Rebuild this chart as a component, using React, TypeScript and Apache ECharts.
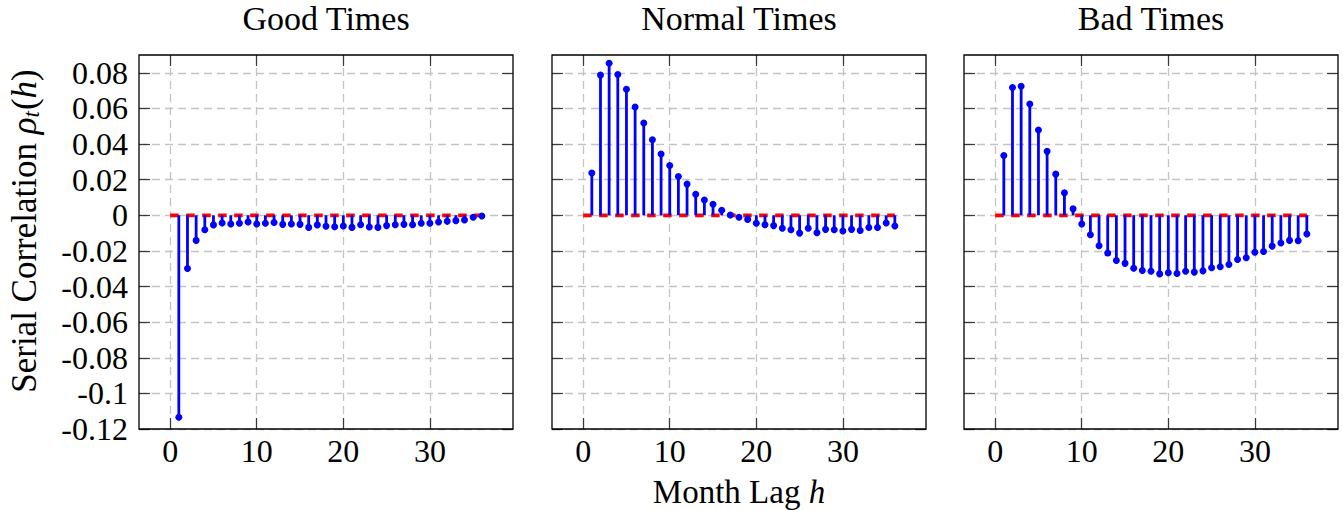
import React, { useEffect, useRef } from "react";
import * as echarts from "echarts";

const lags = [1, 2, 3, 4, 5, 6, 7, 8, 9, 10, 11, 12, 13, 14, 15, 16, 17, 18, 19, 20, 21, 22, 23, 24, 25, 26, 27, 28, 29, 30, 31, 32, 33, 34, 35, 36];

const goodTimes = [
  -0.1134, -0.0299, -0.0141, -0.0081, -0.0054, -0.0043, -0.0049, -0.0045, -0.0038, -0.0049,
  -0.0045, -0.0041, -0.0051, -0.0049, -0.0051, -0.0068, -0.0054, -0.0062, -0.0064, -0.0060,
  -0.0068, -0.0053, -0.0066, -0.0068, -0.0058, -0.0053, -0.0051, -0.0053, -0.0045, -0.0045,
  -0.0038, -0.0034, -0.0030, -0.0026, -0.0011, -0.0004,
];

const normalTimes = [
  0.0237, 0.0787, 0.0854, 0.0791, 0.0708, 0.0608, 0.0518, 0.0424, 0.0344, 0.028,
  0.0218, 0.0175, 0.0118, 0.0086, 0.0062, 0.0028, 0.0002, -0.0011, -0.0023, -0.0045,
  -0.0053, -0.0058, -0.0073, -0.0081, -0.01, -0.0073, -0.0098, -0.0079, -0.0081, -0.0088,
  -0.0079, -0.0085, -0.0069, -0.0069, -0.0043, -0.006,
];

const badTimes = [
  0.0336, 0.0717, 0.0725, 0.0625, 0.0479, 0.0359, 0.0231, 0.0126, 0.0036, -0.0049,
  -0.0109, -0.0171, -0.0212, -0.0254, -0.027, -0.0297, -0.031, -0.0314, -0.0329, -0.0323,
  -0.0327, -0.0314, -0.0319, -0.0312, -0.0295, -0.0289, -0.0276, -0.0248, -0.0238, -0.0208,
  -0.0203, -0.0173, -0.0156, -0.0141, -0.0143, -0.0105,
];

const panelTitles = ["Good Times", "Normal Times", "Bad Times"];
const xTicks = [0, 10, 20, 30];
const yTicks = [-0.12, -0.1, -0.08, -0.06, -0.04, -0.02, 0, 0.02, 0.04, 0.06, 0.08];
const zeroLineX = [0, 36];
const xRange = [-3.6, 39.6];
const yRange = [-0.12, 0.09];

const FONT = "Liberation Serif";

export default function App() {
  const ref = useRef<HTMLDivElement>(null);

  useEffect(() => {
    if (!ref.current) return;
    const chart = echarts.init(ref.current, null, { renderer: "svg" });

    const lefts = [139, 552, 964];
    const top = 55;
    const w = 374;
    const h = 374;
    const seriesData = [goodTimes, normalTimes, badTimes];

    const grids: any[] = [];
    const xAxes: any[] = [];
    const yAxes: any[] = [];
    const series: any[] = [];
    const graphics: any[] = [];

    const tickStyle = { show: true, inside: true, length: 11, lineStyle: { color: "#3a3a3a", width: 1.2 } };
    const splitStyle = { show: true, lineStyle: { color: "#c4c4c4", width: 1.3, type: [8, 5] } };
    const noLine = { show: false, onZero: false };

    lefts.forEach((left, i) => {
      grids.push({ left, top, width: w, height: h, show: false });
      xAxes.push({
        type: "value",
        gridIndex: i,
        position: "bottom",
        min: xRange[0],
        max: xRange[1],
        axisLine: noLine,
        axisTick: { ...tickStyle, customValues: xTicks },
        splitLine: splitStyle,
        axisLabel: {
          show: true,
          customValues: xTicks,
          margin: 6,
          color: "#000",
          fontFamily: FONT,
          fontSize: 32,
        },
      });
      xAxes.push({
        type: "value",
        gridIndex: i,
        position: "top",
        min: xRange[0],
        max: xRange[1],
        axisLine: noLine,
        axisTick: { ...tickStyle, customValues: xTicks },
        splitLine: { show: false },
        axisLabel: { show: false, customValues: xTicks },
      });
      yAxes.push({
        type: "value",
        gridIndex: i,
        position: "left",
        min: yRange[0],
        max: yRange[1],
        axisLine: noLine,
        axisTick: { ...tickStyle, customValues: yTicks },
        splitLine: splitStyle,
        axisLabel: {
          show: i === 0,
          customValues: yTicks,
          margin: 11,
          color: "#000",
          fontFamily: FONT,
          fontSize: 32,
          formatter: (v: number) => String(+Number(v).toFixed(2)),
        },
      });
      yAxes.push({
        type: "value",
        gridIndex: i,
        position: "right",
        min: yRange[0],
        max: yRange[1],
        axisLine: noLine,
        axisTick: { ...tickStyle, customValues: yTicks },
        splitLine: { show: false },
        axisLabel: { show: false, customValues: yTicks },
      });

      series.push({
        type: "line",
        xAxisIndex: 2 * i,
        yAxisIndex: 2 * i,
        data: zeroLineX.map((x) => [x, 0]),
        symbol: "none",
        lineStyle: { color: "#ff0000", width: 3.8, type: [8.5, 7.5] },
        z: 2,
        silent: true,
      });
      series.push({
        type: "custom",
        xAxisIndex: 2 * i,
        yAxisIndex: 2 * i,
        data: lags.map((l, k) => [l, seriesData[i][k]]),
        encode: { x: 0, y: 1 },
        z: 3,
        renderItem: (params: any, api: any) => {
          const x = api.value(0);
          const y = api.value(1);
          const p0 = api.coord([x, 0]);
          const p1 = api.coord([x, y]);
          return {
            type: "group",
            children: [
              {
                type: "line",
                shape: { x1: p0[0], y1: p0[1], x2: p1[0], y2: p1[1] },
                style: { stroke: "#0000ff", lineWidth: 2.8 },
              },
              {
                type: "circle",
                shape: { cx: p1[0], cy: p1[1], r: 3.5 },
                style: { fill: "#0000ff" },
              },
            ],
          };
        },
      });

      graphics.push({
        type: "rect",
        shape: { x: left, y: top, width: w, height: h },
        style: { fill: "none", stroke: "#000", lineWidth: 1.3 },
        z: 100,
        silent: true,
      });
      graphics.push({
        type: "text",
        x: left + w / 2,
        y: 18,
        style: {
          text: panelTitles[i],
          fill: "#000",
          fontFamily: FONT,
          fontSize: 34,
          textAlign: "center",
          textVerticalAlign: "middle",
          align: "center",
          verticalAlign: "middle",
        },
      });
    });

    graphics.push({
      type: "text",
      x: lefts[1] + w / 2,
      y: 492,
      style: {
        text: "{n|Month Lag }{i|h}",
        fill: "#000",
        textAlign: "center",
        textVerticalAlign: "middle",
        align: "center",
        verticalAlign: "middle",
        rich: {
          n: { fontFamily: FONT, fontSize: 33, color: "#000", lineHeight: 30 },
          i: { fontFamily: FONT, fontSize: 33, fontStyle: "italic", color: "#000", lineHeight: 30 },
        },
      },
    });

    graphics.push({
      type: "text",
      x: 24,
      y: 231,
      rotation: Math.PI / 2,
      style: {
        text: "{n|Serial Correlation }{i|ρ}{s|t}{n|(}{i|h}{n|)}",
        fill: "#000",
        textAlign: "center",
        textVerticalAlign: "middle",
        align: "center",
        verticalAlign: "middle",
        rich: {
          n: { fontFamily: FONT, fontSize: 35, color: "#000" },
          i: { fontFamily: FONT, fontSize: 35, fontStyle: "italic", color: "#000" },
          s: {
            fontFamily: FONT,
            fontSize: 23,
            fontStyle: "italic",
            color: "#000",
            verticalAlign: "bottom",
            padding: [15, 1, 0, 0],
          },
        },
      },
    });

    chart.setOption({
      animation: false,
      backgroundColor: "#ffffff",
      textStyle: { fontFamily: FONT },
      grid: grids,
      xAxis: xAxes,
      yAxis: yAxes,
      series,
      graphic: graphics,
    });

    return () => {
      chart.dispose();
    };
  }, []);

  return (
    <div
      ref={ref}
      style={{ position: "fixed", left: 0, top: 0, width: 1343, height: 510, background: "#fff" }}
    />
  );
}
